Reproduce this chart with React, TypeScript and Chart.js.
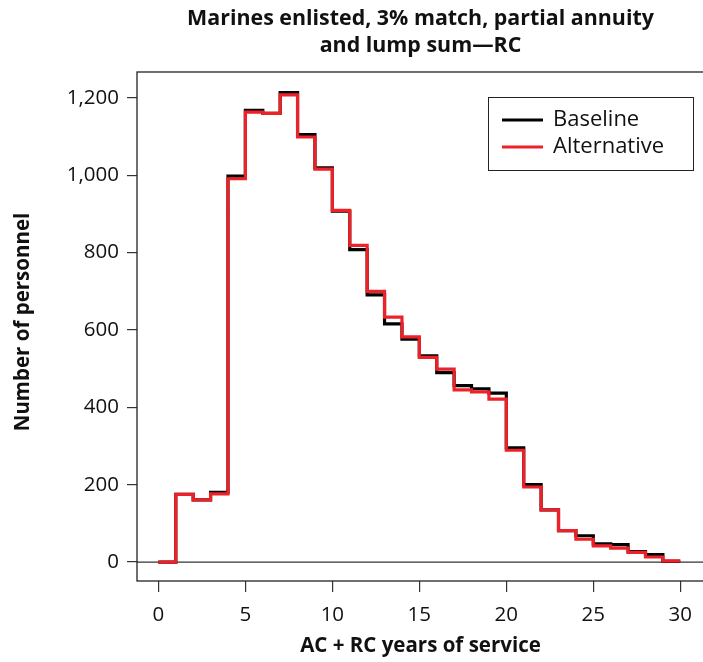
import React, { useEffect, useRef } from "react";
import { Chart, registerables } from "chart.js";

Chart.register(...registerables);

const years: number[] = Array.from({ length: 31 }, (_, i) => i);
const baseline: number[] = [0, 175, 161, 180, 998, 1168, 1160, 1214, 1105, 1019, 907, 808, 691, 616, 576, 533, 490, 456, 448, 437, 295, 200, 135, 81, 68, 47, 45, 27, 19, 2];
const alternative: number[] = [0, 175, 161, 176, 991, 1163, 1160, 1208, 1099, 1016, 909, 819, 700, 633, 582, 529, 499, 445, 440, 421, 289, 194, 135, 81, 59, 42, 36, 25, 13, 3];
const xTicks: number[] = [0, 5, 10, 15, 20, 25, 30];
const yTicks: number[] = [0, 200, 400, 600, 800, 1000, 1200];
const titleLines: string[] = ["Marines enlisted, 3% match, partial annuity", "and lump sum\u2014RC"];
const xTitle = "AC + RC years of service";
const yTitle = "Number of personnel";
const seriesNames: string[] = ["Baseline", "Alternative"];

const FONT = "'Open Sans', 'Noto Sans', sans-serif";

function stepPoints(vals: number[]) {
  const pts = vals.map((v, i) => ({ x: years[i], y: v }));
  pts.push({ x: years[vals.length], y: vals[vals.length - 1] });
  return pts;
}

export default function App() {
  const ref = useRef<HTMLCanvasElement | null>(null);
  useEffect(() => {
    if (!ref.current) return;
    const overlay = {
      id: "overlay",
      beforeDatasetsDraw(chart: any) {
        const { ctx, chartArea, scales } = chart;
        const y0 = scales.y.getPixelForValue(0);
        ctx.save();
        ctx.strokeStyle = "#333";
        ctx.lineWidth = 1.2;
        ctx.beginPath();
        ctx.moveTo(chartArea.left, y0);
        ctx.lineTo(703, y0);
        ctx.stroke();
        ctx.restore();
      },
      afterDraw(chart: any) {
        const { ctx, chartArea } = chart;
        ctx.save();
        // frame
        ctx.strokeStyle = "#222";
        ctx.lineWidth = 1.3;
        ctx.strokeRect(chartArea.left, chartArea.top, 706 - chartArea.left, chartArea.bottom - chartArea.top);
        const cx = (chartArea.left + 704) / 2;
        ctx.fillStyle = "#111";
        ctx.textAlign = "center";
        ctx.textBaseline = "middle";
        ctx.font = `bold 21.4px ${FONT}`;
        ctx.fillText(titleLines[0], cx, 19);
        ctx.fillText(titleLines[1], cx, 46);
        ctx.font = `bold 20.5px ${FONT}`;
        ctx.fillText(xTitle, cx, 646);
        ctx.save();
        ctx.translate(23, 322);
        ctx.rotate(-Math.PI / 2);
        ctx.fillText(yTitle, 0, 0);
        ctx.restore();
        // legend
        ctx.strokeStyle = "#222";
        ctx.lineWidth = 1;
        ctx.strokeRect(488.5, 97.5, 205, 73);
        const ds = chart.data.datasets;
        const ys = [120, 147];
        ds.forEach((d: any, i: number) => {
          ctx.strokeStyle = d.borderColor;
          ctx.lineWidth = 3;
          ctx.beginPath();
          ctx.moveTo(502, ys[i]);
          ctx.lineTo(543, ys[i]);
          ctx.stroke();
          ctx.fillStyle = "#111";
          ctx.textAlign = "left";
          ctx.font = `22px ${FONT}`;
          ctx.fillText(d.label, 553, ys[i]);
        });
        ctx.restore();
      },
    };
    const chart = new Chart(ref.current, {
      type: "line",
      data: {
        datasets: [
          {
            label: seriesNames[0],
            data: stepPoints(baseline),
            borderColor: "#000000",
            borderWidth: 3.2,
            stepped: true,
            pointRadius: 0,
            fill: false,
            order: 2,
            borderJoinStyle: "miter",
          },
          {
            label: seriesNames[1],
            data: stepPoints(alternative),
            borderColor: "#ED2128",
            borderWidth: 3.2,
            stepped: true,
            pointRadius: 0,
            fill: false,
            order: 1,
            borderJoinStyle: "miter",
          },
        ],
      },
      options: {
        responsive: false,
        animation: false,
        devicePixelRatio: 1,
        layout: { padding: { top: 72, left: 0, right: 0, bottom: 0 } },
        plugins: {
          legend: { display: false },
          title: { display: false },
          tooltip: { enabled: false },
        },
        scales: {
          x: {
            type: "linear",
            min: -1.23,
            max: 30.97,
            afterFit: (s: any) => {
              s.height = 81;
            },
            afterBuildTicks: (s: any) => {
              s.ticks = xTicks.map((v) => ({ value: v }));
            },
            grid: { display: true, drawOnChartArea: false, drawTicks: true, tickLength: 11, color: "#333", lineWidth: 1.2 },
            border: { display: false },
            ticks: { color: "#111", font: { family: FONT, size: 20.5 }, padding: 11, maxRotation: 0, autoSkip: false },
          },
          y: {
            type: "linear",
            min: -49,
            max: 1267,
            afterFit: (s: any) => {
              s.width = 137;
            },
            afterBuildTicks: (s: any) => {
              s.ticks = yTicks.map((v) => ({ value: v }));
            },
            grid: { display: true, drawOnChartArea: false, drawTicks: true, tickLength: 10, color: "#333", lineWidth: 1.2 },
            border: { display: false },
            ticks: {
              color: "#111",
              font: { family: FONT, size: 20.5 },
              padding: 8,
              autoSkip: false,
              callback: (v: any) => Number(v).toLocaleString("en-US"),
            },
          },
        },
      },
      plugins: [overlay],
    });
    return () => chart.destroy();
  }, []);
  return (
    <div style={{ position: "absolute", left: 0, top: 0, width: 703, height: 662, background: "#fff" }}>
      <canvas ref={ref} width={703} height={662} style={{ display: "block" }} />
    </div>
  );
}
